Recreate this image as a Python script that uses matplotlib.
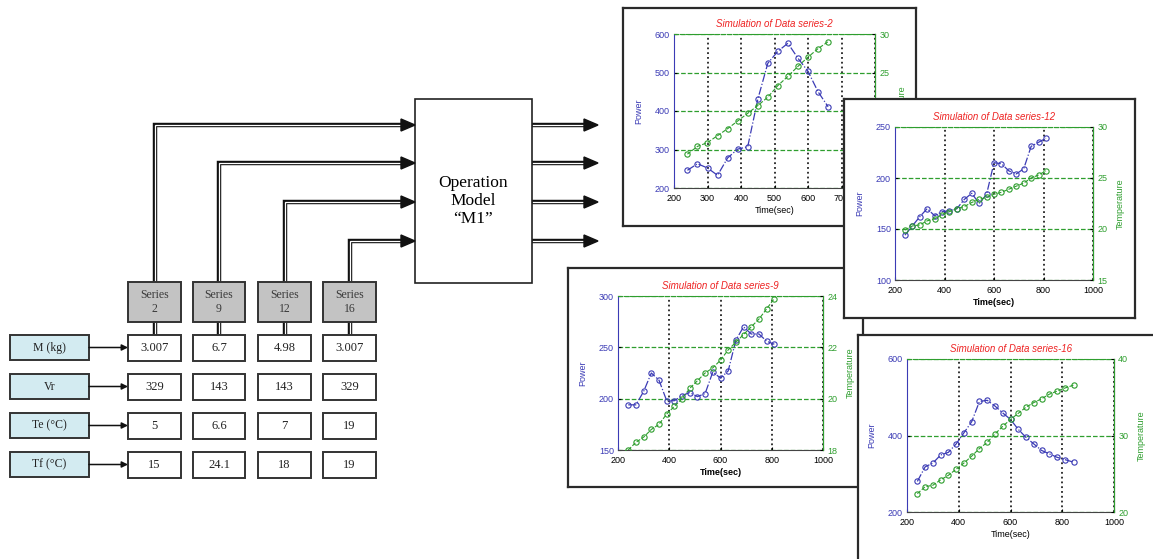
import matplotlib.pyplot as plt
from matplotlib.patches import Rectangle, Polygon

W, H = 1153, 559

# table of inputs
series_names = ['2', '9', '12', '16']
param_labels = ['M (kg)', 'Vr', 'Te (°C)', 'Tf (°C)']
m_kg = ['3.007', '6.7', '4.98', '3.007']
vr = ['329', '143', '143', '329']
te = ['5', '6.6', '7', '19']
tf = ['15', '24.1', '18', '19']

# series-2
t2 = [240, 270, 300, 330, 360, 390, 420, 450, 480, 510, 540, 570, 600, 630, 660]
power2 = [246, 263, 252, 233, 278, 301, 307, 430, 524, 555, 576, 537, 503, 450, 411]
temp2 = [14.4, 15.4, 15.9, 16.8, 17.7, 18.7, 19.7, 20.7, 21.8, 23.3, 24.5, 25.8, 27.0, 28.1, 29.0]

# series-12
t12 = [240, 270, 300, 330, 360, 390, 420, 450, 480, 510, 540, 570, 600, 630, 660, 690, 720, 750, 780, 810]
power12 = [144, 153, 162, 170, 163, 167, 168, 170, 179, 185, 175, 184, 215, 214, 207, 204, 209, 231, 235, 239]
temp12 = [19.9, 20.3, 20.4, 20.8, 21.0, 21.4, 21.7, 22.0, 22.2, 22.6, 22.9, 23.1, 23.4, 23.6, 23.9, 24.2, 24.5, 25.0, 25.3, 25.7]

# series-9
t9 = [240, 270, 300, 330, 360, 390, 420, 450, 480, 510, 540, 570, 600, 630, 660, 690, 720, 750, 780, 810]
power9 = [194, 194, 207, 225, 218, 198, 198, 203, 206, 202, 205, 226, 220, 227, 257, 270, 263, 263, 256, 253]
temp9 = [18.0, 18.3, 18.5, 18.8, 19.0, 19.4, 19.7, 20.0, 20.4, 20.7, 21.0, 21.2, 21.5, 21.9, 22.2, 22.5, 22.8, 23.1, 23.5, 23.9]

# series-16
t16 = [240, 270, 300, 330, 360, 390, 420, 450, 480, 510, 540, 570, 600, 630, 660, 690, 720, 750, 780, 810, 845]
power16 = [280, 318, 328, 349, 356, 378, 407, 436, 489, 492, 477, 459, 442, 416, 395, 378, 361, 352, 343, 337, 330]
temp16 = [22.4, 23.3, 23.5, 24.2, 24.8, 25.6, 26.4, 27.3, 28.3, 29.1, 30.2, 31.2, 32.1, 32.9, 33.7, 34.3, 34.8, 35.4, 35.8, 36.2, 36.6]

BLUE = '#3b3bb5'
GREEN = '#2e9e2e'
SERIF = 'Liberation Serif'
SANS = 'Liberation Sans'


def px_rect(l, t, r, b):
    return [l / W, 1 - b / H, (r - l) / W, (b - t) / H]


fig = plt.figure(figsize=(W / 100, H / 100), dpi=100)

# ---------- block diagram ----------
ax0 = fig.add_axes([0, 0, 1, 1])
ax0.set_xlim(0, W)
ax0.set_ylim(H, 0)
ax0.axis('off')


def double_line(xs, ys):
    ax0.plot(xs, ys, color='#111111', lw=3.2, solid_joinstyle='miter',
             solid_capstyle='butt', zorder=2)
    ax0.plot(xs, ys, color='white', lw=0.9, solid_joinstyle='miter',
             solid_capstyle='butt', zorder=2.1)


def head(x_tip, y, length=14, half=6):
    ax0.add_patch(Polygon([(x_tip - length, y - half), (x_tip, y),
                           (x_tip - length, y + half)], closed=True,
                          color='#111111', zorder=4))


col_left = [128, 193, 258, 323]
col_right = [181, 245, 311, 376]
route_y = [125, 163, 202, 241]

# operation model box
ax0.add_patch(Rectangle((415, 99), 117, 184, fc='white', ec='#222222', lw=1.2, zorder=3))
ax0.text(473, 201, 'Operation\nModel\n\u201cM1\u201d', ha='center', va='center',
         fontsize=12.5, family=SERIF, linespacing=1.2, zorder=5)

for i in range(4):
    xc = (col_left[i] + col_right[i]) / 2
    yr = route_y[i]
    double_line([xc, xc, 402], [282, yr, yr])
    head(415, yr)
    double_line([xc, xc], [322, 335])
    double_line([532, 585], [yr, yr])
    head(598, yr)
    # grey series box
    ax0.add_patch(Rectangle((col_left[i], 282), col_right[i] - col_left[i], 40,
                            fc='#c3c3c3', ec='#333333', lw=1.4, zorder=3))
    ax0.text(xc, 302, 'Series\n' + series_names[i], ha='center', va='center',
             fontsize=8.5, family=SERIF, color='#3a3a3a', linespacing=1.3, zorder=5)

row_top = [335, 374, 413, 452]
row_values = [m_kg, vr, te, tf]
for r in range(4):
    y0 = row_top[r]
    yc = y0 + 12.5
    ax0.add_patch(Rectangle((10, y0), 79, 25, fc='#d3ebf1', ec='#333333', lw=1.4, zorder=3))
    ax0.text(49.5, yc, param_labels[r], ha='center', va='center',
             fontsize=8.5, family=SERIF, color='#222222', zorder=5)
    ax0.annotate('', xy=(128, yc), xytext=(89, yc),
                 arrowprops=dict(arrowstyle='-|>', color='#111111', lw=1.1,
                                 mutation_scale=9, shrinkA=0, shrinkB=0), zorder=4)
    for i in range(4):
        ax0.add_patch(Rectangle((col_left[i], y0), col_right[i] - col_left[i], 26,
                                fc='white', ec='#333333', lw=1.4, zorder=3))
        ax0.text((col_left[i] + col_right[i]) / 2, y0 + 13, row_values[r][i],
                 ha='center', va='center', fontsize=9, family=SERIF,
                 color='#222222', zorder=5)


# ---------- small simulation charts ----------
def chart(frame, box, t, power, temp, num, xlim, xstep, pticks, tticks, bold):
    fa = fig.add_axes(px_rect(*frame))
    fa.set_xticks([])
    fa.set_yticks([])
    fa.set_facecolor('white')
    for s in fa.spines.values():
        s.set_linewidth(1.6)
        s.set_color('#2a2a2a')

    ax = fig.add_axes(px_rect(*box))
    ax.set_xlim(xlim)
    ax.set_xticks(range(xlim[0], xlim[1] + 1, xstep))
    ax.set_ylim(pticks[0], pticks[-1])
    ax.set_yticks(pticks)
    ax.plot(t, power, color=BLUE, ls='-.', lw=0.9, marker='o', mfc='none',
            ms=3.8, mew=0.8)
    ax.grid(axis='x', color='#222222', ls=':', lw=1.3)
    ax.grid(axis='y', color=GREEN, ls='--', lw=0.9)
    ax.tick_params(axis='both', direction='in', length=2, labelsize=6.5)
    ax.tick_params(axis='x', pad=4.5)
    ax.tick_params(axis='y', labelcolor=BLUE, pad=3)
    ax.spines['left'].set_color(BLUE)
    ax.spines['top'].set_color(GREEN)
    ax.spines['top'].set_linestyle('--')
    ax.spines['bottom'].set_color('#444444')
    ax.set_ylabel('Power', color=BLUE, fontsize=6.5, family=SANS, labelpad=8)
    ax.set_xlabel('Time(sec)', fontsize=6.5, family=SANS, labelpad=2,
                  fontweight='bold' if bold else 'normal')
    ax.set_title('Simulation of Data series-' + num, color='#ee2222',
                 fontsize=7, style='italic', family=SANS, pad=5)

    tw = ax.twinx()
    tw.set_ylim(tticks[0], tticks[-1])
    tw.set_yticks(tticks)
    tw.plot(t, temp, color=GREEN, ls='--', lw=0.8, marker='o', mfc='none',
            ms=3.8, mew=0.8)
    tw.tick_params(axis='y', direction='in', length=2, labelsize=6.5,
                   labelcolor=GREEN, pad=3)
    for side in ['left', 'top', 'bottom']:
        tw.spines[side].set_visible(False)
    tw.spines['right'].set_color(GREEN)
    tw.set_ylabel('Temperature', color=GREEN, fontsize=6.5, family=SANS, labelpad=6)
    for lab in ax.get_xticklabels() + ax.get_yticklabels() + tw.get_yticklabels():
        lab.set_family(SANS)


chart((568, 268, 863, 487), (618, 296, 823, 450), t9, power9, temp9, '9',
      (200, 1000), 200, [150, 200, 250, 300], [18, 20, 22, 24], True)
chart((623, 8, 916, 226), (674, 34, 875, 188), t2, power2, temp2, '2',
      (200, 800), 100, [200, 300, 400, 500, 600], [10, 15, 20, 25, 30], False)
chart((844, 99, 1135, 318), (895, 127, 1093, 280), t12, power12, temp12, '12',
      (200, 1000), 200, [100, 150, 200, 250], [15, 20, 25, 30], True)
chart((858, 335, 1165, 575), (907, 359, 1114, 512), t16, power16, temp16, '16',
      (200, 1000), 200, [200, 400, 600], [20, 30, 40], False)

fig.savefig('out.png', dpi=100, facecolor='white')
